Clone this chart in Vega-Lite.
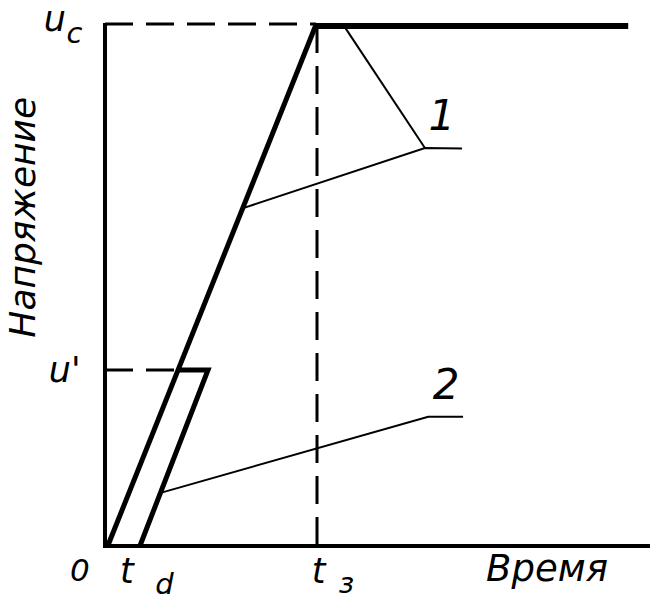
{
  "$schema": "https://vega.github.io/schema/vega-lite/v6.json",
  "width": 545,
  "height": 521,
  "autosize": "none",
  "padding": {"left": 105, "top": 25, "right": 14, "bottom": 56},
  "background": "white",
  "config": {"view": {"stroke": null}},
  "datasets": {
    "lines": [
      {"id": "axes", "t": 0, "v": 100.4, "o": 1},
      {"id": "axes", "t": 0, "v": 0, "o": 2},
      {"id": "axes", "t": 100, "v": 0, "o": 3},
      {"id": "rise1", "t": 0.5, "v": 0, "o": 1},
      {"id": "rise1", "t": 38.7, "v": 100, "o": 2},
      {"id": "top", "t": 38.4, "v": 99.8, "o": 1},
      {"id": "top", "t": 96.0, "v": 99.8, "o": 2},
      {"id": "rise2", "t": 13.2, "v": 33.8, "o": 1},
      {"id": "rise2", "t": 18.9, "v": 33.8, "o": 2},
      {"id": "rise2", "t": 6.4, "v": 0, "o": 3},
      {"id": "dash_uc", "t": 0, "v": 100.2, "o": 1},
      {"id": "dash_uc", "t": 38.7, "v": 100.2, "o": 2},
      {"id": "dash_u1", "t": 0, "v": 33.8, "o": 1},
      {"id": "dash_u1", "t": 13.2, "v": 33.8, "o": 2},
      {"id": "dash_t3", "t": 38.9, "v": 100, "o": 1},
      {"id": "dash_t3", "t": 38.9, "v": 0, "o": 2},
      {"id": "lead1", "t": 25.5, "v": 64.9, "o": 1},
      {"id": "lead1", "t": 58.7, "v": 76.4, "o": 2},
      {"id": "lead1", "t": 65.5, "v": 76.3, "o": 3},
      {"id": "lead1b", "t": 44.0, "v": 99.6, "o": 1},
      {"id": "lead1b", "t": 58.7, "v": 76.4, "o": 2},
      {"id": "lead2", "t": 10.2, "v": 10.2, "o": 1},
      {"id": "lead2", "t": 59.3, "v": 24.8, "o": 2},
      {"id": "lead2", "t": 65.7, "v": 24.8, "o": 3}
    ],
    "letters": [
      {"label": "u", "t": -9.2, "v": 101.0},
      {"label": "u'", "t": -7.4, "v": 33.6},
      {"label": "t", "t": 4.0, "v": -5.0},
      {"label": "t", "t": 39.2, "v": -4.9}
    ],
    "zero": [
      {"label": "0", "t": -4.6, "v": -5.0}
    ],
    "curves": [
      {"label": "1", "t": 61.8, "v": 82.4},
      {"label": "2", "t": 62.6, "v": 30.8}
    ],
    "xlab": [
      {"label": "Время", "t": 81.1, "v": -4.6}
    ],
    "subs": [
      {"label": "c", "t": -5.6, "v": 98.2},
      {"label": "d", "t": 10.9, "v": -7.4},
      {"label": "з", "t": 44.3, "v": -7.2}
    ],
    "ylab": [
      {"label": "Напряжение", "t": -14.9, "v": 63.1}
    ]
  },
  "encoding": {
    "x": {"field": "t", "type": "quantitative", "scale": {"domain": [0, 100], "nice": false, "zero": false}, "axis": null},
    "y": {"field": "v", "type": "quantitative", "scale": {"domain": [0, 100], "nice": false, "zero": false}, "axis": null}
  },
  "layer": [
    {
      "data": {"name": "lines"},
      "transform": [{"filter": "datum.id == 'axes'"}],
      "mark": {"type": "line", "color": "black", "strokeWidth": 4, "strokeJoin": "miter", "strokeCap": "butt"},
      "encoding": {"detail": {"field": "id"}, "order": {"field": "o"}}
    },
    {
      "data": {"name": "lines"},
      "transform": [{"filter": "indexof(['dash_uc','dash_u1','dash_t3'], datum.id) >= 0"}],
      "mark": {"type": "line", "color": "black", "strokeWidth": 3, "strokeDash": [28, 13], "strokeCap": "butt"},
      "encoding": {"detail": {"field": "id"}, "order": {"field": "o"}}
    },
    {
      "data": {"name": "lines"},
      "transform": [{"filter": "indexof(['lead1','lead1b','lead2'], datum.id) >= 0"}],
      "mark": {"type": "line", "color": "black", "strokeWidth": 2},
      "encoding": {"detail": {"field": "id"}, "order": {"field": "o"}}
    },
    {
      "data": {"name": "lines"},
      "transform": [{"filter": "indexof(['rise1','rise2'], datum.id) >= 0"}],
      "mark": {"type": "line", "color": "black", "strokeWidth": 5, "strokeJoin": "miter"},
      "encoding": {"detail": {"field": "id"}, "order": {"field": "o"}}
    },
    {
      "data": {"name": "lines"},
      "transform": [{"filter": "datum.id == 'top'"}],
      "mark": {"type": "line", "color": "black", "strokeWidth": 6, "strokeCap": "butt"},
      "encoding": {"detail": {"field": "id"}, "order": {"field": "o"}}
    },
    {
      "data": {"name": "letters"},
      "mark": {"type": "text", "font": "DejaVu Sans", "fontStyle": "italic", "fontSize": 35, "align": "center", "baseline": "middle", "color": "black"},
      "encoding": {"text": {"field": "label"}}
    },
    {
      "data": {"name": "zero"},
      "mark": {"type": "text", "font": "DejaVu Sans", "fontStyle": "italic", "fontSize": 31, "align": "center", "baseline": "middle", "color": "black"},
      "encoding": {"text": {"field": "label"}}
    },
    {
      "data": {"name": "curves"},
      "mark": {"type": "text", "font": "DejaVu Sans", "fontStyle": "italic", "fontSize": 42, "align": "center", "baseline": "middle", "color": "black"},
      "encoding": {"text": {"field": "label"}}
    },
    {
      "data": {"name": "xlab"},
      "mark": {"type": "text", "font": "DejaVu Sans", "fontStyle": "italic", "fontSize": 37, "align": "center", "baseline": "middle", "color": "black"},
      "encoding": {"text": {"field": "label"}}
    },
    {
      "data": {"name": "subs"},
      "mark": {"type": "text", "font": "DejaVu Sans", "fontStyle": "italic", "fontSize": 29, "align": "center", "baseline": "middle", "color": "black"},
      "encoding": {"text": {"field": "label"}}
    },
    {
      "data": {"name": "ylab"},
      "mark": {"type": "text", "font": "DejaVu Sans", "fontStyle": "italic", "fontSize": 36, "angle": 270, "align": "center", "baseline": "middle", "color": "black"},
      "encoding": {"text": {"field": "label"}}
    }
  ]
}
